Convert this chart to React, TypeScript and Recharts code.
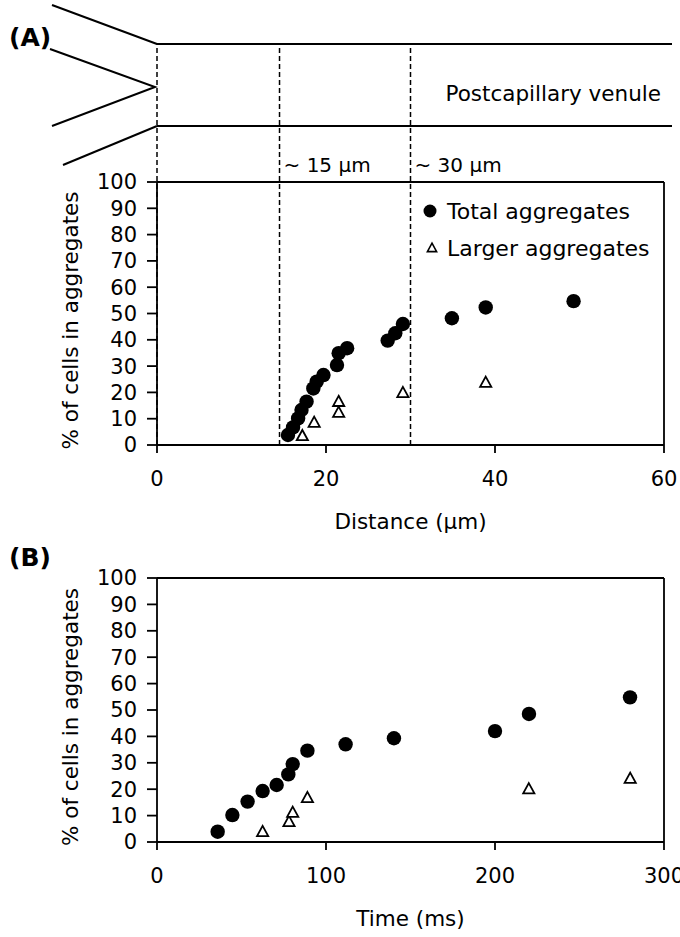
import React from "react";
import { ScatterChart, Scatter, XAxis, YAxis, ReferenceLine, Legend } from "recharts";

const FONT = "DejaVu Sans, Verdana, sans-serif";

// (A) distance along the venule (µm) vs % of cells in aggregates
const distTotal = [15.5, 16.1, 16.7, 17.1, 17.7, 18.5, 18.9, 19.7, 21.3, 21.5, 22.5, 27.3, 28.2, 29.1, 34.9, 38.9, 49.3];
const pctTotalA = [3.8, 6.7, 10.1, 13.3, 16.5, 21.5, 24.1, 26.6, 30.4, 34.9, 36.8, 39.7, 42.5, 46.0, 48.2, 52.3, 54.7];
const distLarger = [17.2, 18.6, 21.5, 21.5, 29.1, 38.9];
const pctLargerA = [3.5, 8.6, 12.4, 16.5, 19.9, 23.8];

// (B) time (ms) vs % of cells in aggregates
const timeTotal = [35.9, 44.6, 53.6, 62.5, 70.8, 77.7, 80.3, 89.0, 111.6, 140.2, 200, 220.1, 279.9];
const pctTotalB = [3.9, 10.2, 15.3, 19.3, 21.6, 25.6, 29.5, 34.6, 37.0, 39.3, 42.0, 48.5, 54.8];
const timeLarger = [62.5, 78.1, 80.3, 89.0, 220, 280];
const pctLargerB = [3.9, 7.7, 11.2, 16.8, 20.1, 24.1];

const seriesNames = ["Total aggregates", "Larger aggregates"];

const pctTicks = [0, 10, 20, 30, 40, 50, 60, 70, 80, 90, 100];
const distTicks = [0, 20, 40, 60];
const timeTicks = [0, 100, 200, 300];

// dashed markers in (A): entrance, ~15 µm, ~30 µm
const markDist = [0, 14.5, 30];
const markLabels = ["", "~ 15 μm", "~ 30 μm"];
// venule top wall, in % units so the dashed lines reach it through the y scale
const wallTopPct = 152.5;

const toPts = (xs: number[], ys: number[]) => xs.map((x, i) => ({ x, y: ys[i] }));

const PLOT_L = 157;
const PLOT_R = 664;
const xPxA = (v: number) => PLOT_L + (v / 60) * (PLOT_R - PLOT_L);

const axisStyle = { stroke: "#000", strokeWidth: 1.8 };
const tickFont = { fill: "#000", fontSize: 21, fontFamily: FONT };

const Dot = (p: any) => <circle cx={p.cx} cy={p.cy} r={7.2} fill="#000" />;
const Tri = (p: any) => (
  <polygon
    points={`${p.cx},${p.cy - 5.8} ${p.cx + 5.6},${p.cy + 4.4} ${p.cx - 5.6},${p.cy + 4.4}`}
    fill="#fff"
    stroke="#000"
    strokeWidth={1.8}
  />
);

const YTitle = (props: any) => {
  const vb = props.viewBox || { x: 0, y: 0, width: 157, height: 263 };
  const cx = 70;
  const cy = vb.y + vb.height / 2 + 7;
  return (
    <text x={cx} y={cy} transform={`rotate(-90 ${cx} ${cy})`} textAnchor="middle" dominantBaseline="central"
      fontSize={21.5} fontFamily={FONT} fill="#000">
      % of cells in aggregates
    </text>
  );
};

const XTitle = (text: string) => (props: any) => {
  const vb = props.viewBox || { x: 157, y: 0, width: 507, height: 95 };
  return (
    <text x={vb.x + vb.width / 2} y={vb.y + 76} textAnchor="middle" dominantBaseline="central"
      fontSize={21.5} fontFamily={FONT} fill="#000">
      {text}
    </text>
  );
};

// legend keeps the series order of the figure: total first, larger second
const LegendBox = () => (
  <svg width={260} height={72}>
    {seriesNames.map((n, i) => {
      const cy = 17 + i * 37;
      return (
        <g key={n}>
          {i === 0 ? (
            <circle cx={10} cy={cy} r={6.5} fill="#000" />
          ) : (
            <polygon points={`12,${cy - 4.8} 16.6,${cy + 3.6} 7.4,${cy + 3.6}`} fill="#fff" stroke="#000" strokeWidth={1.6} />
          )}
          <text x={27} y={cy} dominantBaseline="central" fontSize={22} fontFamily={FONT} fill="#000">{n}</text>
        </g>
      );
    })}
  </svg>
);

export default function App() {
  return (
    <div style={{ position: "absolute", left: 0, top: 0, width: 680, height: 937, background: "#fff", overflow: "hidden" }}>
      <div style={{ position: "absolute", left: 0, top: 0 }}>
        <ScatterChart width={680} height={540} margin={{ top: 182, right: 16, bottom: 0, left: 0 }}>
          <XAxis type="number" dataKey="x" domain={[0, 60]} ticks={distTicks} height={95}
            axisLine={axisStyle} tickLine={axisStyle} tickSize={8} tickMargin={18} tick={tickFont}
            label={{ content: XTitle("Distance (μm)") }} />
          <YAxis type="number" dataKey="y" domain={[0, 100]} ticks={pctTicks} width={157} interval={0}
            axisLine={axisStyle} tickLine={axisStyle} tickSize={10} tickMargin={10} tick={tickFont}
            label={{ content: YTitle }} />
          <ReferenceLine y={100} stroke="#000" strokeWidth={1.8} />
          <ReferenceLine x={60} stroke="#000" strokeWidth={1.8} />
          {markDist.map((d) => (
            <ReferenceLine key={d} ifOverflow="visible" segment={[{ x: d, y: 0 }, { x: d, y: wallTopPct }]}
              stroke="#000" strokeWidth={1.5} strokeDasharray="5 3" />
          ))}
          <Scatter name={seriesNames[0]} data={toPts(distTotal, pctTotalA)} shape={Dot} isAnimationActive={false} />
          <Scatter name={seriesNames[1]} data={toPts(distLarger, pctLargerA)} shape={Tri} isAnimationActive={false} />
          <Legend layout="vertical" align="center" verticalAlign="middle" content={LegendBox}
            wrapperStyle={{ top: 194, left: 420, width: 260, height: 72 }} />
        </ScatterChart>
      </div>
      <div style={{ position: "absolute", left: 0, top: 540 }}>
        <ScatterChart width={680} height={397} margin={{ top: 38, right: 16, bottom: 0, left: 0 }}>
          <XAxis type="number" dataKey="x" domain={[0, 300]} ticks={timeTicks} height={95}
            axisLine={axisStyle} tickLine={axisStyle} tickSize={8} tickMargin={18} tick={tickFont}
            label={{ content: XTitle("Time (ms)") }} />
          <YAxis type="number" dataKey="y" domain={[0, 100]} ticks={pctTicks} width={157} interval={0}
            axisLine={axisStyle} tickLine={axisStyle} tickSize={10} tickMargin={10} tick={tickFont}
            label={{ content: YTitle }} />
          <ReferenceLine y={100} stroke="#000" strokeWidth={1.8} />
          <ReferenceLine x={300} stroke="#000" strokeWidth={1.8} />
          <Scatter name={seriesNames[0]} data={toPts(timeTotal, pctTotalB)} shape={Dot} isAnimationActive={false} />
          <Scatter name={seriesNames[1]} data={toPts(timeLarger, pctLargerB)} shape={Tri} isAnimationActive={false} />
        </ScatterChart>
      </div>
      <svg width={680} height={937} style={{ position: "absolute", left: 0, top: 0, pointerEvents: "none" }}>
        <g stroke="#000" strokeWidth={2} fill="none">
          <line x1={52} y1={5} x2={157} y2={44} />
          <line x1={157} y1={44} x2={672} y2={44} />
          <polyline points="50,49 155,87 52,126" />
          <line x1={157} y1={126} x2={672} y2={126} />
          <line x1={157} y1={126} x2={63} y2={165} />
        </g>
        <text x={661} y={93} textAnchor="end" dominantBaseline="central" fontSize={21.5} fontFamily={FONT} fill="#000">
          Postcapillary venule
        </text>
        {markDist.map((d, i) =>
          markLabels[i] ? (
            <text key={d} x={xPxA(d) + 4} y={165} dominantBaseline="central" fontSize={20} fontFamily={FONT} fill="#000">
              {markLabels[i]}
            </text>
          ) : null
        )}
        <text x={9} y={46} fontSize={25} fontWeight="bold" fontFamily={FONT} fill="#000">(A)</text>
        <text x={9} y={566} fontSize={25} fontWeight="bold" fontFamily={FONT} fill="#000">(B)</text>
      </svg>
    </div>
  );
}
